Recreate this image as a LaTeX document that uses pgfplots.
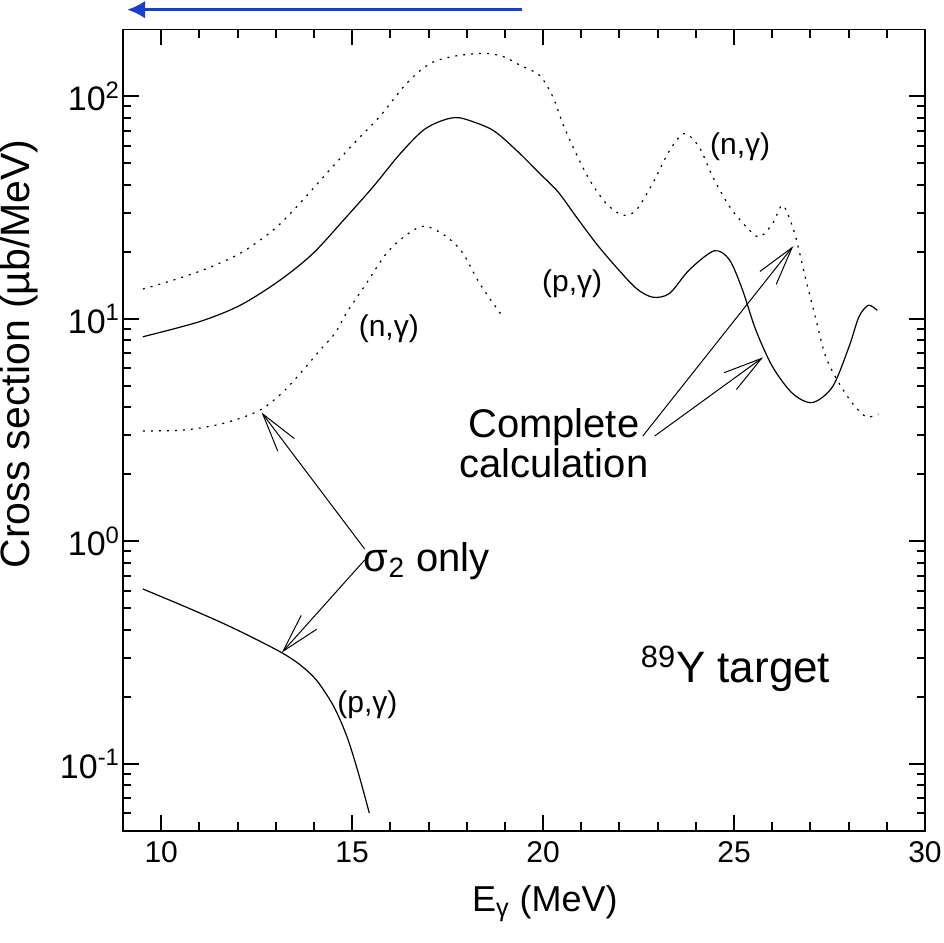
\documentclass[border=0pt]{standalone}
\usepackage{pgfplots}
\pgfplotsset{compat=1.18}
\usepackage{fontspec}
\setmainfont{Liberation Sans}
\usetikzlibrary{arrows.meta}
\definecolor{arrowblue}{HTML}{1740D0}

% complete calculation
\pgfplotstableread{
E s
9.52 8.3
11.00 9.7
12.07 11.5
13.11 14.9
13.98 19.7
14.85 28.7
15.55 39.2
16.25 55.0
16.86 70.3
17.38 78.0
17.82 80.0
18.52 72.8
18.86 66.9
19.39 55.3
19.91 45.0
20.39 37.2
20.87 28.7
21.39 21.8
21.91 17.1
22.44 13.7
22.87 12.5
23.31 13.0
23.83 16.6
24.48 20.2
24.88 18.4
25.22 13.5
25.57 8.9
26.01 6.08
26.53 4.62
27.05 4.20
27.58 4.95
28.01 7.48
28.27 10.2
28.52 11.5
28.75 10.9
}\pgcomplete
\pgfplotstableread{
E s
9.52 13.6
10.31 14.9
11.19 16.8
12.07 19.7
12.93 25.0
13.63 33.0
14.33 45.0
15.03 61.0
15.72 81.0
16.42 114
17.03 140
17.64 151
18.43 156
18.95 151
19.39 138
19.91 124
20.26 99
20.52 75
20.87 55
21.22 42
21.65 33
22.09 29.2
22.44 30.8
22.87 40.6
23.31 57
23.70 68
24.09 59
24.44 43.5
24.88 32
25.31 26
25.66 23.3
26.01 26.8
26.27 32.4
26.53 26
26.71 20
26.88 15
27.14 10
27.40 6.75
27.75 5.13
28.10 4.17
28.45 3.63
28.78 3.72
}\ngcomplete
% sigma_2 only
\pgfplotstableread{
E s
9.52 3.13
10.58 3.16
11.45 3.33
12.15 3.61
12.67 3.96
13.20 4.70
13.72 5.89
14.16 7.23
14.55 8.6
14.85 10.6
15.37 14.4
15.90 19.7
16.42 23.8
16.90 26.1
17.47 23.4
17.90 19.7
18.34 14.4
18.91 10.4
}\ngsigma
\pgfplotstableread{
E s
9.52 0.610
10.50 0.519
11.50 0.437
12.30 0.376
13.15 0.316
13.63 0.279
14.07 0.237
14.51 0.182
14.86 0.133
15.16 0.0912
15.45 0.060
}\pgsigma

\begin{document}
\begin{tikzpicture}
\useasboundingbox (-61.5pt,-56.15pt) rectangle (410.5pt,415.35pt);
\begin{axis}[
  scale only axis, width=401pt, height=400.7pt,
  xmin=9, xmax=30, ymode=log, ymin=0.05, ymax=200,
  xtick={10,15,20,25,30}, minor xtick={9,11,12,13,14,16,17,18,19,21,22,23,24,26,27,28,29},
  ytick={0.1,1,10,100},
  yticklabels={10\textsuperscript{-1},10\textsuperscript{0},10\textsuperscript{1},10\textsuperscript{2}},
  minor ytick={0.06,0.07,0.08,0.09,0.2,0.3,0.4,0.5,0.6,0.7,0.8,0.9,2,3,4,5,6,7,8,9,20,30,40,50,60,70,80,90},
  xtick pos=both, ytick pos=both, tick align=inside,
  major tick length=8pt, minor tick length=4.2pt,
  major tick style={draw=black, line width=1pt},
  minor tick style={draw=black, line width=1pt},
  axis line style={line width=0.8pt},
  /pgf/number format/assume math mode=true,
  xticklabel style={font=\fontsize{15}{15}\selectfont, yshift=-2pt},
  yticklabel style={font=\fontsize{17}{17}\selectfont, xshift=2pt},
  xlabel={E\textsubscript{γ} (MeV)},
  ylabel={Cross section (µb/MeV)},
  xlabel style={font=\fontsize{18}{18}\selectfont, at={(axis description cs:0.526,-0.1002)}, anchor=base},
  ylabel style={font=\fontsize{20.5}{20.5}\selectfont, at={(axis description cs:-0.13,0.595)}, anchor=center},
]
\addplot[black, line width=0.6pt, smooth] table[x=E,y=s] {\pgcomplete};
\addplot[black, line width=0.6pt, smooth, dash pattern=on 1pt off 3pt] table[x=E,y=s] {\ngcomplete};
\addplot[black, line width=0.6pt, smooth, dash pattern=on 1pt off 3pt] table[x=E,y=s] {\ngsigma};
\addplot[black, line width=0.6pt, smooth] table[x=E,y=s] {\pgsigma};

\node[font=\fontsize{15}{15}\selectfont] at (axis cs:25.16,59.2) {(n,γ)};
\node[font=\fontsize{15}{15}\selectfont] at (axis cs:20.76,14.4) {(p,γ)};
\node[font=\fontsize{15}{15}\selectfont] at (axis cs:15.96,9.04) {(n,γ)};
\node[font=\fontsize{15}{15}\selectfont] at (axis cs:15.40,0.184) {(p,γ)};

\node[align=center, inner sep=0pt, font=\fontsize{20}{20}\selectfont] at (axis cs:20.28,2.75) {Complete\\calculation};
\node[anchor=base west, inner sep=0pt, font=\fontsize{20}{20}\selectfont] at (axis cs:15.30,0.731) {σ\textsubscript{2} only};
\node[anchor=base west, inner sep=0pt, font=\fontsize{22}{22}\selectfont] at (axis cs:22.55,0.2307) {\textsuperscript{89}Y target};

\draw[line width=0.5pt, -{Straight Barb[length=19.3pt,width=10.4pt]}] (axis cs:15.33,0.922) -- (axis cs:12.63,3.79);
\draw[line width=0.5pt, -{Straight Barb[length=19.3pt,width=10.4pt]}] (axis cs:15.33,0.824) -- (axis cs:13.16,0.316);
\draw[line width=0.5pt, -{Straight Barb[length=19.3pt,width=10.4pt]}] (axis cs:22.61,2.97) -- (axis cs:26.55,21.2);
\draw[line width=0.5pt, -{Straight Barb[length=19.3pt,width=10.4pt]}] (axis cs:22.92,2.97) -- (axis cs:25.76,6.71);

\coordinate (bluetail) at (axis cs:19.46,245);
\coordinate (bluetip) at (axis cs:9.11,245);
\end{axis}
\draw[arrowblue, line width=1.5pt, -{Latex[length=9pt,width=9pt]}] (bluetail) -- (bluetip);
\end{tikzpicture}
\end{document}
